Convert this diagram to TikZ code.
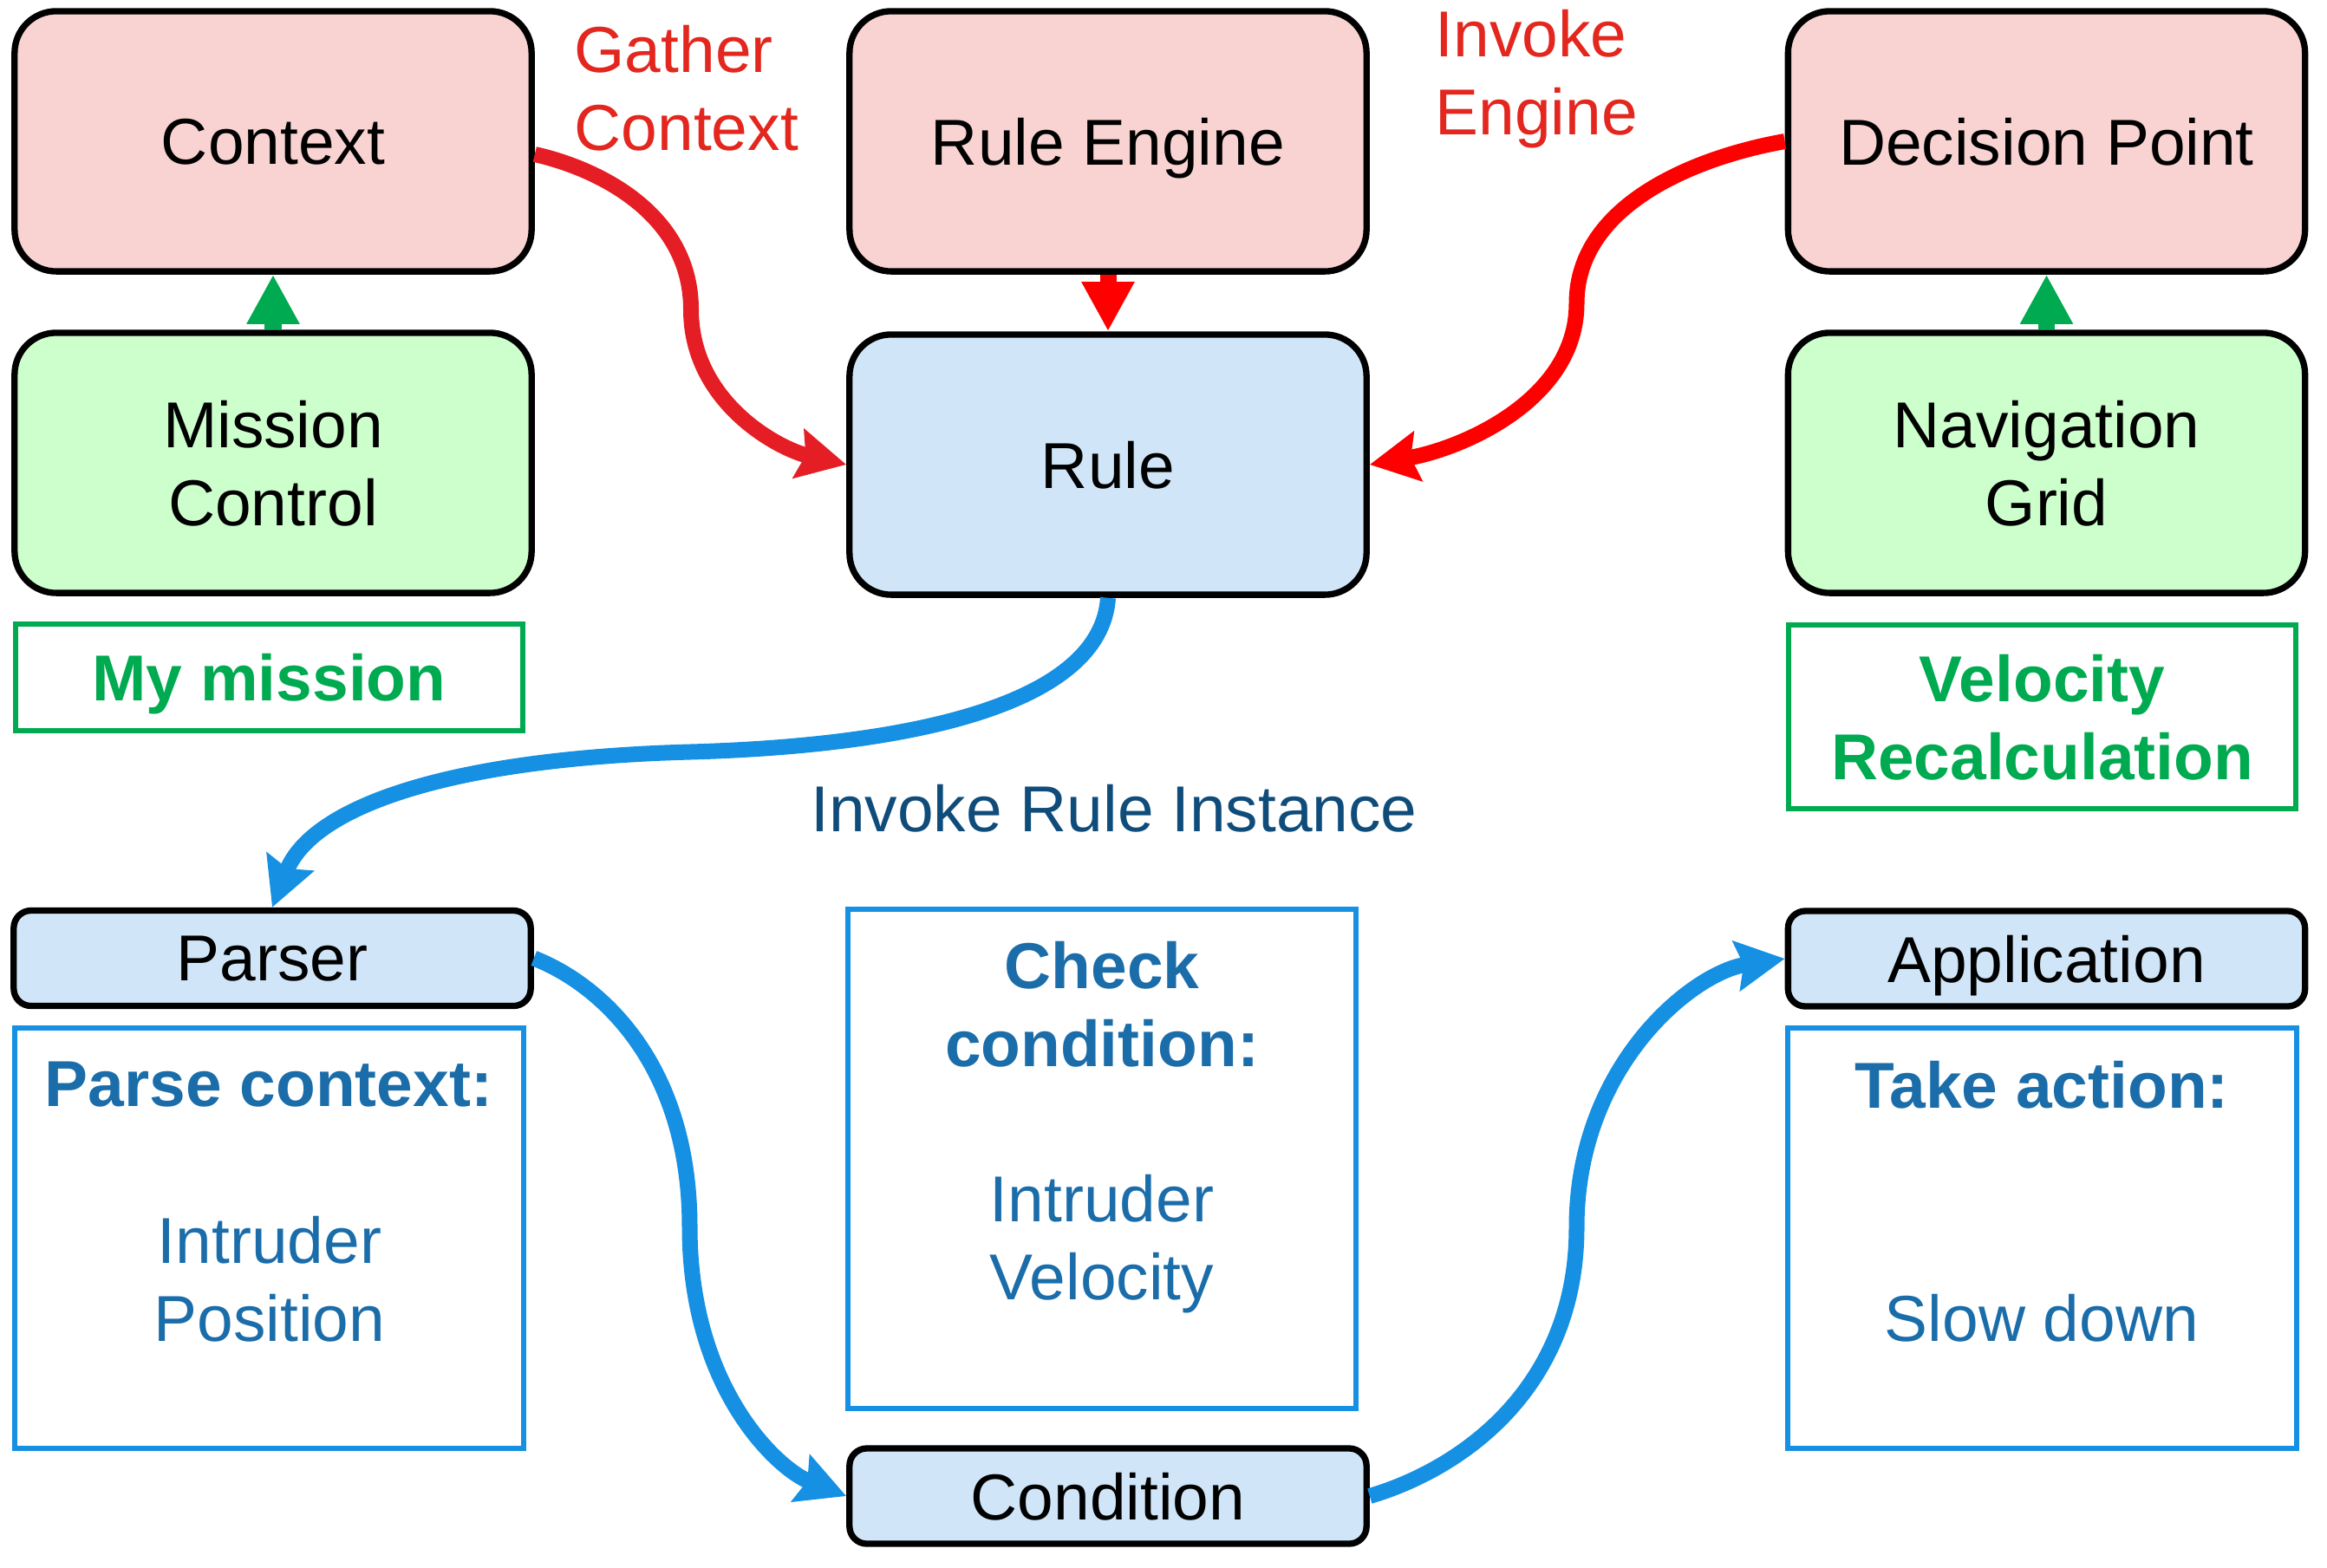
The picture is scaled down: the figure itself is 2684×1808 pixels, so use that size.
\documentclass[tikz,border=0pt]{standalone}
\usepackage{fontspec}
\setmainfont{Liberation Sans}
\usetikzlibrary{arrows.meta,calc}
\definecolor{pinkfill}{HTML}{F8D3D1}
\definecolor{greenfill}{HTML}{CCFFCC}
\definecolor{bluefill}{HTML}{D0E6F8}
\definecolor{gatherred}{HTML}{E51E25}
\definecolor{purered}{HTML}{FF0000}
\definecolor{labelred}{HTML}{E3261E}
\definecolor{mygreen}{HTML}{00AA50}
\definecolor{flowblue}{HTML}{1590E3}
\definecolor{textblue}{HTML}{1B6DAA}
\definecolor{darkblue}{HTML}{0F4C7A}
\begin{document}
\begin{tikzpicture}[x=0.01cm,y=-0.01cm,
  every node/.style={font=\fontsize{21.3pt}{25.6pt}\selectfont, inner sep=0pt, text depth=0pt},
  bigbox/.style={draw=black, line width=0.073cm, rounded corners=0.48cm,
    minimum width=5.96cm, minimum height=3.0cm, align=center},
  smallbox/.style={draw=black, line width=0.073cm, rounded corners=0.2cm, fill=bluefill,
    minimum width=5.96cm, minimum height=1.1cm},
  greennote/.style={draw=mygreen, line width=0.06cm, text=mygreen,
    font=\fontsize{21.3pt}{25.6pt}\selectfont\bfseries, align=center, minimum width=5.85cm},
  bluenote/.style={draw=flowblue, line width=0.06cm, minimum width=5.86cm},
  bluehead/.style={text=textblue, align=center, font=\fontsize{21.3pt}{25.6pt}\selectfont\bfseries},
  bluetext/.style={text=textblue, align=center},
  redlabel/.style={text=labelred, align=left},
  straightarrow/.style={line width=0.19cm, -{Triangle[length=5.7mm,width=5.7mm]}},
  curvearrow/.style={line width=0.18cm, -{Stealth[length=5.6mm,width=5.7mm,inset=0.8mm]}}
]
\useasboundingbox (0,0) rectangle (2684,1808);

% top row and second row
\node[bigbox, fill=pinkfill] (ctx) at (315,163) {Context};
\node[bigbox, fill=greenfill] (mc) at (315,534) {Mission\\Control};
\node[greennote, minimum height=1.23cm] (mym) at (310.5,781.5) {My mission};

\node[bigbox, fill=pinkfill] (eng) at (1278,163) {Rule Engine};
\node[bigbox, fill=bluefill] (rule) at (1278,536) {Rule};

\node[bigbox, fill=pinkfill] (dec) at (2360.5,163) {Decision Point};
\node[bigbox, fill=greenfill] (nav) at (2360.5,534) {Navigation\\Grid};
\node[greennote, minimum height=2.12cm] (vel) at (2355.5,827) {Velocity\\Recalculation};

% lower part
\node[smallbox] (parser) at (314,1105.5) {Parser};
\node[bluenote, minimum height=4.85cm] (pbox) at (310.5,1428.5) {};
\node[bluehead] (phead) at (310,1251) {Parse context:};
\node[bluetext] (pbody) at (311,1475) {Intruder\\Position};

\node[bluenote, minimum height=5.76cm] (cbox) at (1271,1337) {};
\node[bluehead] (chead) at (1271,1158) {Check\\condition:};
\node[bluetext] (cbody) at (1271,1427) {Intruder\\Velocity};
\node[smallbox] (cond) at (1278,1726) {Condition};

\node[smallbox] (app) at (2360.5,1106) {Application};
\node[bluenote, minimum height=4.85cm] (tbox) at (2355.5,1428.5) {};
\node[bluehead] (thead) at (2355,1251) {Take action:};
\node[bluetext] (tbody) at (2355,1520) {Slow down};

% labels
\node[redlabel, anchor=west] (gather) at (662,101.5) {Gather\\Context};
\node[redlabel, anchor=west] (invoke) at (1655,83) {Invoke\\Engine};
\node[text=darkblue] (inst) at (1285,932) {Invoke Rule Instance};

% straight arrows
\draw[straightarrow, mygreen] (mc.north) -- (ctx.south);
\draw[straightarrow, mygreen] (nav.north) -- (dec.south);
\draw[straightarrow, purered] (eng.south) -- (rule.north);

% curved arrows
\draw[curvearrow, gatherred] ($(ctx.east)+(0,15)$) .. controls (696,196) and (797,250) .. (797,357)
  .. controls (797,464) and (898,518) .. (rule.west);
\draw[curvearrow, purered] (dec.west) .. controls (1952,182) and (1818.5,238) .. (1818.5,350)
  .. controls (1818.5,462) and (1685,518) .. (rule.east);
\draw[curvearrow, flowblue] (rule.south) .. controls (1270,810) and (1060,860) .. (796,867.5)
  .. controls (520,875) and (360,930) .. (parser.north);
\draw[curvearrow, flowblue] (parser.east) .. controls (694,1136) and (795.5,1229) .. (795.5,1415.5)
  .. controls (795.5,1602) and (897,1695) .. (cond.west);
\draw[curvearrow, flowblue] (cond.east) .. controls (1685,1695) and (1818.5,1602) .. (1818.5,1416)
  .. controls (1818.5,1230) and (1952,1122) .. (app.west);
\end{tikzpicture}
\end{document}
